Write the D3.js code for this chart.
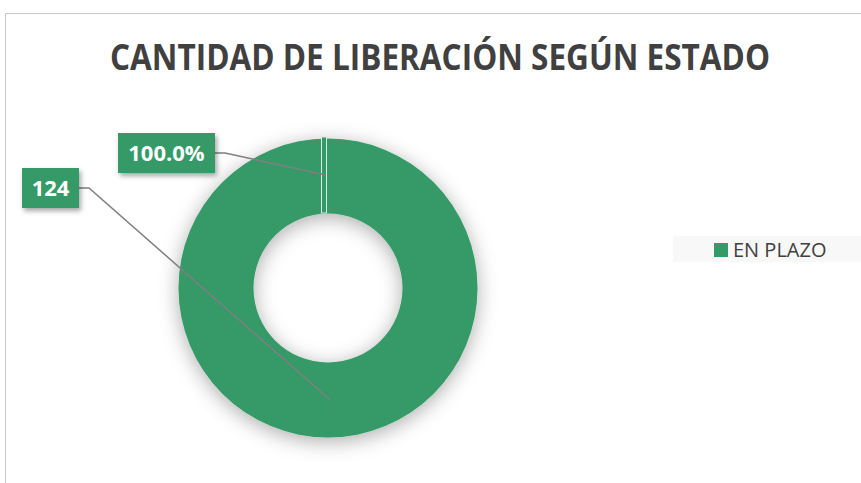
<!DOCTYPE html>
<html>
<head>
<meta charset="utf-8">
<script src="https://cdn.jsdelivr.net/npm/d3@7"></script>
<style>
  body { margin: 0; background: #fff; }
  svg { display: block; }
</style>
</head>
<body>
<svg id="chart" width="861" height="483"></svg>
<script>
var title = "CANTIDAD DE LIBERACIÓN SEGÚN ESTADO";
var categories = ["EN PLAZO"];
var values = [124];
var colors = ["#349a68"];

var width = 861, height = 483;
var cx = 328, cy = 288, outerR = 149.5, innerR = 74.5;

var svg = d3.select("#chart");

var defs = svg.append("defs");
var shadow = defs.append("filter").attr("id", "shadow")
    .attr("x", "-30%").attr("y", "-30%").attr("width", "160%").attr("height", "160%");
shadow.append("feDropShadow").attr("dx", 0).attr("dy", 4).attr("stdDeviation", 10)
    .attr("flood-color", "#000").attr("flood-opacity", 0.32);
var boxShadow = defs.append("filter").attr("id", "boxShadow")
    .attr("x", "-30%").attr("y", "-30%").attr("width", "160%").attr("height", "160%");
boxShadow.append("feDropShadow").attr("dx", 2).attr("dy", 3).attr("stdDeviation", 2.5)
    .attr("flood-color", "#000").attr("flood-opacity", 0.35);

// chart frame
svg.append("path")
    .attr("d", "M5.5," + height + "V13.5H" + width)
    .attr("fill", "none").attr("stroke", "#c8c8c8").attr("stroke-width", 1);

// title
svg.append("text")
    .attr("x", 440).attr("y", 70)
    .attr("text-anchor", "middle")
    .attr("textLength", 660).attr("lengthAdjust", "spacingAndGlyphs")
    .style("font-family", "'Open Sans', sans-serif")
    .style("font-weight", "bold").style("font-size", "35px")
    .attr("fill", "#404040")
    .text(title);

var total = d3.sum(values);
var pie = d3.pie().sort(null).value(function(d) { return d; });
var arcs = pie(values);
var arc = d3.arc().innerRadius(innerR).outerRadius(outerR);

var g = svg.append("g").attr("transform", "translate(" + cx + "," + cy + ")");

g.selectAll("path.slice").data(arcs).enter().append("path")
    .attr("class", "slice")
    .attr("d", arc)
    .attr("fill", function(d, i) { return colors[i]; })
    .attr("filter", "url(#shadow)");

// seam at the start of the slice
g.selectAll("rect.seam").data(arcs).enter().append("rect")
    .attr("class", "seam")
    .attr("x", -6.5).attr("y", -outerR - 1.5)
    .attr("width", 5).attr("height", outerR - innerR + 1)
    .attr("fill", function(d, i) { return colors[i]; })
    .attr("stroke", "#d6eadf").attr("stroke-width", 1);

var midR = (innerR + outerR) / 2;
function pointAt(angle, r) {
  return [cx + r * Math.sin(angle), cy - r * Math.cos(angle)];
}

var labelFont = "'Open Sans', sans-serif";

function drawLabel(text, bx, by, bw, bh, anchor) {
  // leader line
  svg.append("path")
      .attr("d", d3.line()([[bx + bw, by + bh / 2], [bx + bw + 10, by + bh / 2], anchor]))
      .attr("fill", "none").attr("stroke", "#7f7f7f").attr("stroke-width", 1.5);
  svg.append("rect")
      .attr("x", bx).attr("y", by).attr("width", bw).attr("height", bh)
      .attr("fill", colors[0]).attr("filter", "url(#boxShadow)");
  svg.append("text")
      .attr("x", bx + bw / 2).attr("y", by + bh / 2 + 8)
      .attr("text-anchor", "middle")
      .style("font-family", labelFont).style("font-weight", "bold").style("font-size", "22px")
      .attr("fill", "#fff")
      .text(text);
}

arcs.forEach(function(d) {
  var pct = d3.format(".1%")(d.value / total);
  var a1 = pointAt(d.startAngle - 0.025, midR + 1);
  drawLabel(pct, 118, 133, 97, 40, a1);
  var a2 = pointAt((d.startAngle + d.endAngle) / 2 - 0.02, midR);
  drawLabel(String(d.value), 22, 168, 57, 40, a2);
});

// legend
var legend = svg.append("g");
legend.append("rect")
    .attr("x", 673).attr("y", 236).attr("width", 190).attr("height", 26)
    .attr("fill", "#f8f8f8");
var item = legend.selectAll("g.item").data(categories).enter().append("g").attr("class", "item");
item.append("rect")
    .attr("x", 714).attr("y", 243).attr("width", 14).attr("height", 14)
    .attr("fill", function(d, i) { return colors[i]; });
item.append("text")
    .attr("x", 733).attr("y", 257)
    .style("font-family", "'Open Sans', sans-serif").style("font-size", "20px")
    .attr("fill", "#404040")
    .text(function(d) { return d; });
</script>
</body>
</html>
